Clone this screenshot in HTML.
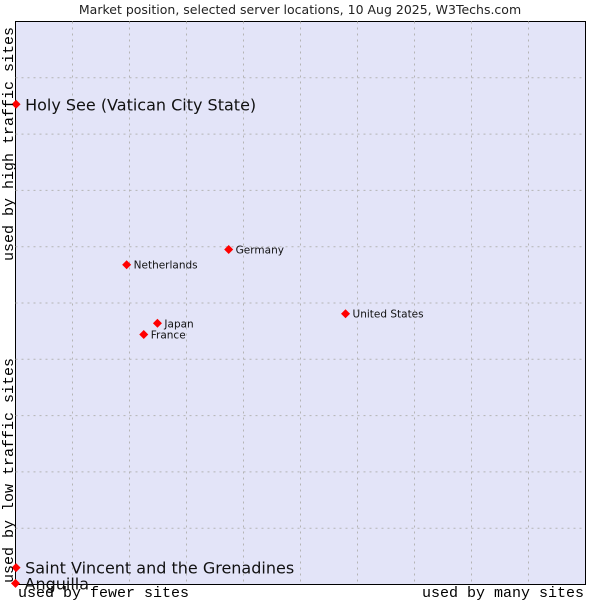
<!DOCTYPE html>
<html><head><meta charset="utf-8"><style>
body{margin:0;background:#fff;width:600px;height:600px;overflow:hidden}
svg text{font-family:"DejaVu Sans","Liberation Sans",sans-serif}
.mono{font-family:"Liberation Mono","DejaVu Sans Mono",monospace}
</style></head><body>
<svg id="chart" width="600" height="600">
<text x="300" y="14" text-anchor="middle" font-size="12.5" fill="#222">Market position, selected server locations, 10 Aug 2025, W3Techs.com</text>
<rect x="15.5" y="21.5" width="570" height="563" fill="#e3e4f8" stroke="#000"/>
<g id="grid"></g>
<g id="marks"></g>
<text class="mono" x="18" y="597" font-size="15" fill="#000">used by fewer sites</text>
<text class="mono" x="584" y="597" font-size="15" text-anchor="end" fill="#000">used by many sites</text>
<text class="mono" transform="translate(13,583) rotate(-90)" font-size="15" fill="#000">used by low traffic sites</text>
<text class="mono" transform="translate(13,261) rotate(-90)" font-size="15" fill="#000">used by high traffic sites</text>
</svg>
<script>
const names=["Holy See (Vatican City State)","Saint Vincent and the Grenadines","Anguilla","Germany","Netherlands","United States","Japan","France"];
const xVals=[0.1,0.1,0,37.4,19.5,57.9,24.9,22.5];
const yVals=[85.3,3.0,0.2,59.5,56.8,48.1,46.4,44.4];
const big=[true,true,true,false,false,false,false,false];
const L=15.5,T=21.5,W=570,H=563;
const sx=v=>L+v/100*W, sy=v=>T+H-v/100*H;
const ns="http://www.w3.org/2000/svg";
const grid=document.getElementById('grid'), marks=document.getElementById('marks');
for(let i=1;i<10;i++){
 const l=document.createElementNS(ns,'line');
 l.setAttribute('x1',sx(i*10));l.setAttribute('x2',sx(i*10));l.setAttribute('y1',T);l.setAttribute('y2',T+H);
 l.setAttribute('stroke','#b4b4b4');l.setAttribute('stroke-dasharray','2,4');
 
 
 grid.appendChild(l);
 const m=document.createElementNS(ns,'line');
 m.setAttribute('y1',sy(i*10));m.setAttribute('y2',sy(i*10));m.setAttribute('x1',L);m.setAttribute('x2',L+W);
 m.setAttribute('stroke','#b4b4b4');m.setAttribute('stroke-dasharray','2,4');
 
 
 grid.appendChild(m);
}
names.forEach((n,i)=>{
 const x=sx(xVals[i]),y=sy(yVals[i]);
 const d=document.createElementNS(ns,'path');
 d.setAttribute('d',`M${x-4.5},${y}L${x},${y-4.5}L${x+4.5},${y}L${x},${y+4.5}Z`);
 d.setAttribute('fill','#f00');
 
 
 marks.appendChild(d);
 const t=document.createElementNS(ns,'text');
 t.setAttribute('x',x+(big[i]?9:7));t.setAttribute('y',y+(big[i]?6:4));
 t.setAttribute('font-size',big[i]?16:10.5);t.setAttribute('fill','#111');
 t.textContent=n;
 
 
 marks.appendChild(t);
});
</script>
</body></html>
